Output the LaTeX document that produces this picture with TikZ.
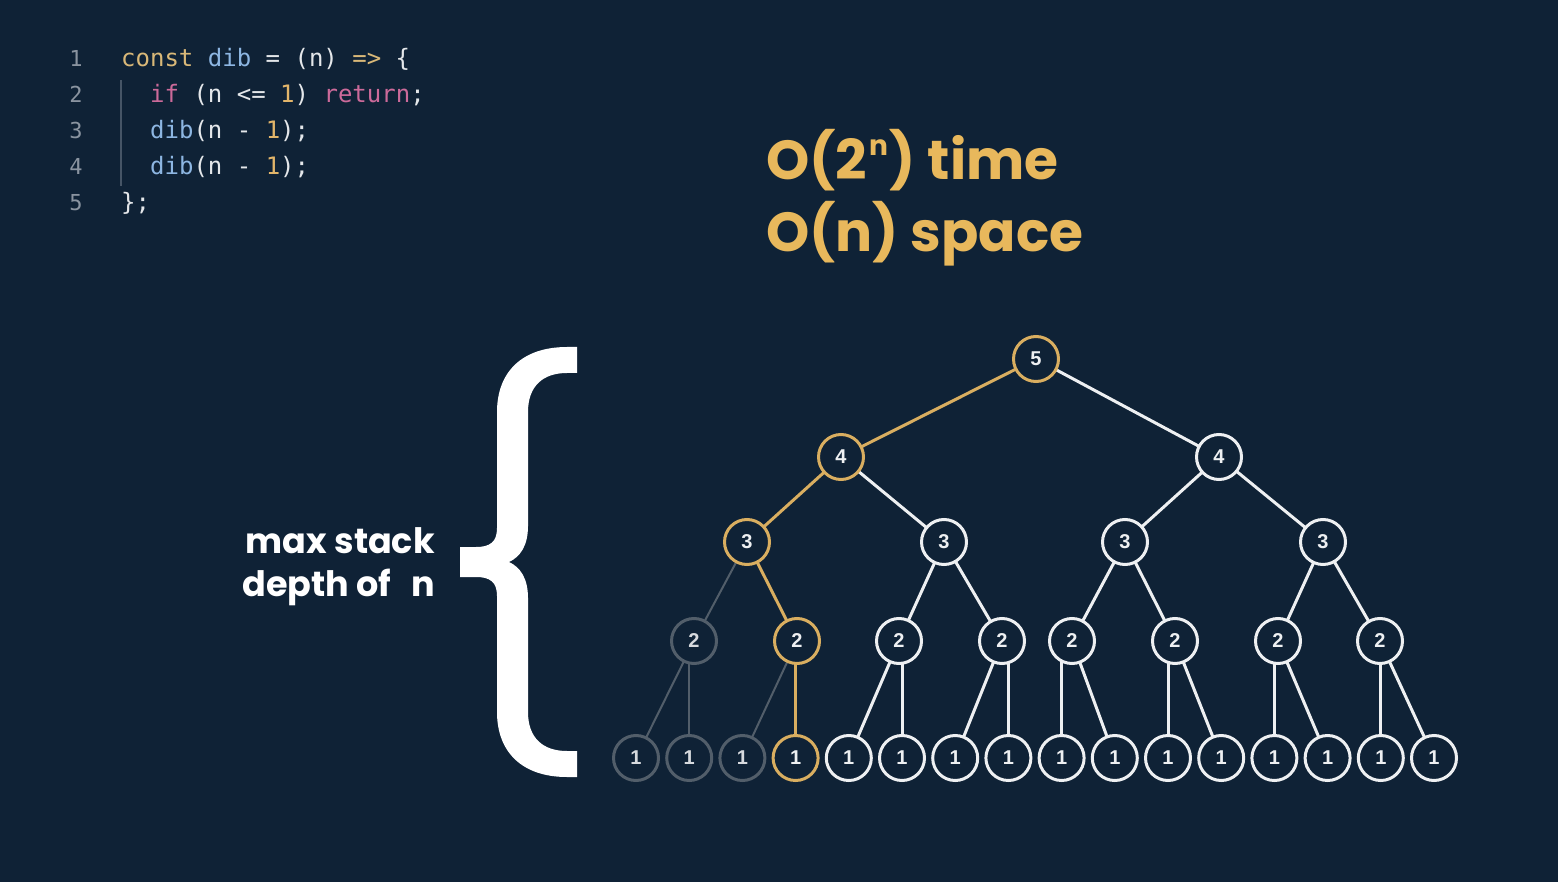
\documentclass[tikz,border=0pt]{standalone}
\usepackage{fontspec}
\setmainfont{Poppins}
\setsansfont{Liberation Sans}
\setmonofont{DejaVu Sans Mono}
\usepackage{xcolor}
\usepackage{tikz}
\usetikzlibrary{calc,backgrounds}
\definecolor{bgx}{HTML}{0F2236}
\definecolor{goldx}{HTML}{E8B85C}
\definecolor{treegold}{HTML}{D9AE60}
\definecolor{dimx}{HTML}{525E6A}
\definecolor{whitex}{HTML}{EEF0F2}
\definecolor{kwx}{HTML}{D9B878}
\definecolor{fnx}{HTML}{8DB6E2}
\definecolor{pinkx}{HTML}{CC6A9A}
\definecolor{numx}{HTML}{E2B56A}
\definecolor{txtx}{HTML}{E4E7EA}
\definecolor{lnx}{HTML}{8A94A0}
\tikzset{
  nd/.style={circle,draw=whitex,line width=3pt,fill=bgx,minimum size=45pt,inner sep=0pt,
    text=whitex,font=\sffamily\bfseries\fontsize{20}{20}\selectfont},
  hot/.style={nd,draw=treegold},
  dim/.style={nd,draw=dimx,text=whitex!85!dimx},
  lnw/.style={whitex,line width=3pt},
  lng/.style={treegold,line width=3pt},
  lnd/.style={dimx,line width=2pt},
  code/.style={anchor=base west,inner sep=0pt,text=txtx,font=\ttfamily\fontsize{24}{24}\selectfont},
  lnum/.style={anchor=base,inner sep=0pt,text=lnx,font=\ttfamily\fontsize{22}{22}\selectfont},
  big/.style={anchor=base west,inner sep=0pt,text=goldx,font=\bfseries\fontsize{55}{55}\selectfont},
  lbl/.style={anchor=base east,inner sep=0pt,text=white,font=\bfseries\fontsize{35}{35}\selectfont}
}
\newcommand{\kw}[1]{\textcolor{kwx}{#1}}
\newcommand{\fn}[1]{\textcolor{fnx}{#1}}
\newcommand{\pk}[1]{\textcolor{pinkx}{#1}}
\newcommand{\nm}[1]{\textcolor{numx}{#1}}

\begin{document}
\begin{tikzpicture}[x=1pt,y=-1pt]
\begin{scope}[on background layer]
\fill[bgx] (0,0) rectangle (1558,882);
\end{scope}
\useasboundingbox (0,0) rectangle (1558,882);
% code panel
\foreach \i/\y in {1/67,2/103,3/139,4/175,5/211}{\node[lnum] (ln\i) at (76,\y) {\i};}
\draw[lnx!45!bgx,line width=1.5pt] (121,80) -- (121,186);
\node[code] (c1) at (121,67) {\kw{const} \fn{dib} = (n) \kw{=>} \{};
\node[code] (c2) at (150,103) {\pk{if} (n <= \nm{1}) \pk{return};};
\node[code] (c3) at (150,139) {\fn{dib}(n - \nm{1});};
\node[code] (c4) at (150,175) {\fn{dib}(n - \nm{1});};
\node[code] (c5) at (121,211) {\};};
% complexity
\node[big] (t1) at (766,180) {O(2\hspace{2pt}\raisebox{0.44em}{\fontsize{28}{28}\selectfont n}\hspace{2pt}) time};
\node[big] (t2) at (766,252) {O(n) space};
% brace and label
\fill[white] (577,347) -- (567,347) .. controls (522,347) and (497,372) .. (497,412)
  -- (497,528) .. controls (497,542) and (490,547) .. (476,547) -- (460,547) -- (460,577)
  -- (476,577) .. controls (490,577) and (497,582) .. (497,596) -- (497,712)
  .. controls (497,752) and (522,777) .. (567,777) -- (577,777) -- (577,751) -- (567,751)
  .. controls (543,751) and (528,738) .. (528,712) -- (528,598)
  .. controls (528,578) and (520,567) .. (509,562)
  .. controls (520,557) and (528,546) .. (528,526) -- (528,412)
  .. controls (528,386) and (543,373) .. (567,373) -- (577,373) -- cycle;
\node[lbl] (m1) at (435,553) {max stack};
\node[lbl] (m2) at (435,596) {depth of\hspace{0.35em} n};
% tree
\node[hot] (n5) at (1036,359) {5};
\node[hot] (n4a) at (841,457) {4};
\node[nd] (n4b) at (1219,457) {4};
\node[hot] (n3a) at (747,542) {3};
\node[nd] (n3b) at (944,542) {3};
\node[nd] (n3c) at (1125,542) {3};
\node[nd] (n3d) at (1323,542) {3};
\foreach \n/\x/\s in {a/694/dim,b/797/hot,c/899/nd,d/1002/nd,e/1072/nd,f/1175/nd,g/1278/nd,h/1380/nd}
  {\node[\s] (n2\n) at (\x,641) {2};}
\foreach \i/\s in {1/dim,2/dim,3/dim,4/hot,5/nd,6/nd,7/nd,8/nd,9/nd,10/nd,11/nd,12/nd,13/nd,14/nd,15/nd,16/nd}
  {\node[\s] (l\i) at ({636+53.2*(\i-1)},758) {1};}
\begin{scope}[on background layer]
\foreach \a/\b/\s in {n5/n4a/lng,n5/n4b/lnw,n4a/n3a/lng,n4a/n3b/lnw,n4b/n3c/lnw,n4b/n3d/lnw,
  n3a/n2a/lnd,n3a/n2b/lng,n3b/n2c/lnw,n3b/n2d/lnw,n3c/n2e/lnw,n3c/n2f/lnw,n3d/n2g/lnw,n3d/n2h/lnw,
  n2a/l1/lnd,n2b/l3/lnd,n2c/l5/lnw,n2d/l7/lnw,n2e/l10/lnw,n2f/l12/lnw,n2g/l14/lnw,n2h/l16/lnw}
  {\draw[\s] (\a.center) -- (\b.center);}
% straight drops
\foreach \a/\b/\s in {n2a/l2/lnd,n2b/l4/lng,n2c/l6/lnw,n2d/l8/lnw,n2e/l9/lnw,n2f/l11/lnw,n2g/l13/lnw,n2h/l15/lnw}
  {\draw[\s] (\b.center) -- (\b |- \a);}
\end{scope}
\end{tikzpicture}
\end{document}
